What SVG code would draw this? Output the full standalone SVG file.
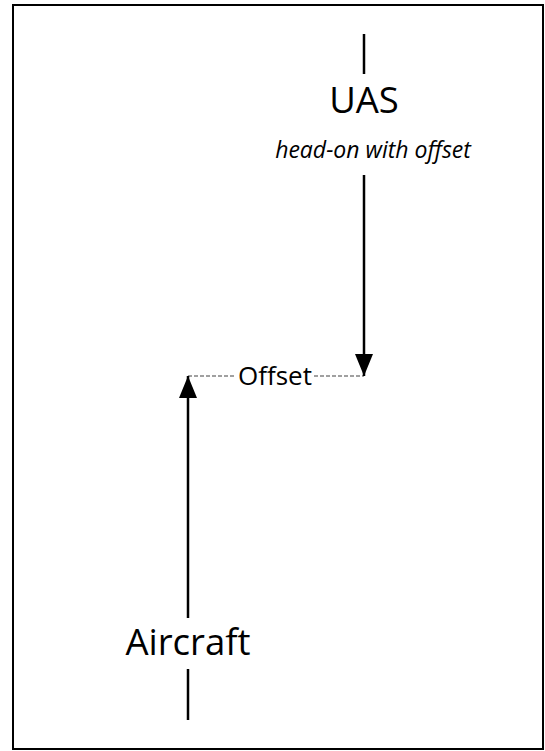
<svg xmlns="http://www.w3.org/2000/svg" width="545" height="751" viewBox="0 0 545 751">
  <style>
    .frame { fill: #ffffff; stroke: #000000; stroke-width: 2; }
    .track { stroke: #000000; stroke-width: 2.5; fill: none; }
    .offset-line { stroke: #a0a0a0; stroke-width: 2; stroke-dasharray: 4 2; fill: none; }
    .label { font-family: "Open Sans", "Liberation Sans", sans-serif; fill: #000000; text-anchor: middle; }
    .big { font-size: 36.5px; }
    .note { font-size: 23px; font-style: italic; }
    .mid { font-size: 26px; }
  </style>
  <defs>
    <marker id="head" markerUnits="userSpaceOnUse" markerWidth="22" markerHeight="18" refX="22" refY="9" viewBox="0 0 22 18" orient="auto">
      <path d="M0,0 L22,9 L0,18 Z" fill="#000000"/>
    </marker>
  </defs>
  <rect class="frame" x="13" y="5" width="530" height="744"/>

  <g id="connectors">
    <line class="offset-line" x1="188" y1="376" x2="364" y2="376"/>
    <line class="track" x1="364" y1="175" x2="364" y2="376" marker-end="url(#head)"/>
    <line class="track" x1="188" y1="618" x2="188" y2="376" marker-end="url(#head)"/>
  </g>

  <g id="uas">
    <line class="track" x1="364" y1="34" x2="364" y2="74"/>
    <text class="label big" x="364" y="113">UAS</text>
    <text class="label note" x="373" y="158">head-on with offset</text>
  </g>

  <g id="offset">
    <rect x="236" y="362" width="78" height="28" fill="#ffffff"/>
    <text class="label mid" x="275" y="385">Offset</text>
  </g>

  <g id="aircraft">
    <text class="label big" x="188" y="655">Aircraft</text>
    <line class="track" x1="188" y1="669" x2="188" y2="720"/>
  </g>
</svg>
